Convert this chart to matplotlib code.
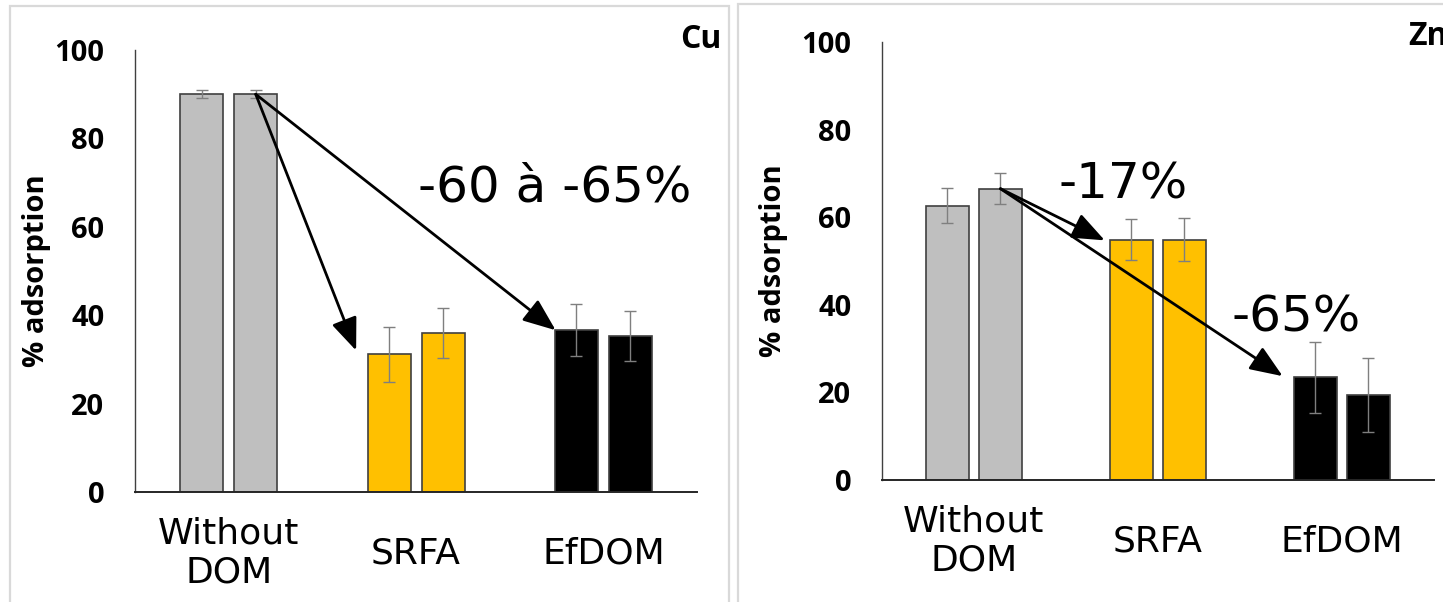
import matplotlib
matplotlib.use("Agg")
import matplotlib.pyplot as plt
from matplotlib.patches import Rectangle
import numpy as np

# Treatments on the x axis
categories = ["Without\nDOM", "SRFA", "EfDOM"]
bar_colors = ["#bfbfbf", "#ffc000", "#000000"]

# Cu adsorption (%), two replicates per treatment, with standard deviations
cu_rep1 = [90.0, 31.2, 36.6]
cu_rep2 = [90.0, 36.0, 35.3]
cu_err1 = [0.9, 6.2, 5.9]
cu_err2 = [0.9, 5.7, 5.7]

# Zn adsorption (%)
zn_rep1 = [62.6, 54.9, 23.5]
zn_rep2 = [66.5, 54.9, 19.4]
zn_err1 = [4.0, 4.6, 8.1]
zn_err2 = [3.6, 4.9, 8.5]

yticks = [0, 20, 40, 60, 80, 100]

BOLD_FONT = "Open Sans"

fig = plt.figure(figsize=(14.43, 6.02), dpi=100)

# Panel frames
fig.add_artist(Rectangle((0.0069, -0.02), 0.4983, 1.01, transform=fig.transFigure,
                         fill=False, edgecolor="#d9d9d9", lw=1.6))
fig.add_artist(Rectangle((0.5114, -0.02), 0.5, 1.0134, transform=fig.transFigure,
                         fill=False, edgecolor="#d9d9d9", lw=1.6))

ax_cu = fig.add_axes([0.0936, 0.1827, 0.3895, 0.7342])
ax_zn = fig.add_axes([0.6112, 0.2027, 0.3825, 0.7276])

off = 0.144
width = 0.23
x = np.arange(len(categories))


def draw_panel(ax, r1, r2, e1, e2, label_x):
    for xs, vals, errs in ((x - off, r1, e1), (x + off, r2, e2)):
        ax.bar(xs, vals, width=width, color=bar_colors, edgecolor="#404040",
               linewidth=1.2, zorder=2)
        ax.errorbar(xs, vals, yerr=errs, fmt="none", ecolor="#7f7f7f",
                    elinewidth=1.0, capsize=4, capthick=1.0, zorder=3)
    ax.set_xlim(-0.5, 2.5)
    ax.set_ylim(0, 100)
    ax.set_yticks(yticks)
    ax.set_yticklabels([str(t) for t in yticks], fontfamily=BOLD_FONT,
                       fontweight="bold", fontsize=21)
    ax.set_xticks(x)
    ax.set_xticklabels(categories, fontfamily="DejaVu Sans", fontsize=26)
    for lab in ax.get_xticklabels():
        lab.set_verticalalignment("center")
    ax.tick_params(axis="x", length=0, pad=44)
    ax.tick_params(axis="y", length=0, pad=22)
    for s in ("top", "right"):
        ax.spines[s].set_visible(False)
    ax.spines["left"].set_color("#404040")
    ax.spines["left"].set_linewidth(1.0)
    ax.spines["bottom"].set_color("#262626")
    ax.spines["bottom"].set_linewidth(1.4)
    ax.set_ylabel("% adsorption", fontfamily=BOLD_FONT, fontweight="bold",
                  fontsize=21, va="center")
    ax.yaxis.set_label_coords(label_x, 0.5)


draw_panel(ax_cu, cu_rep1, cu_rep2, cu_err1, cu_err2, -0.176)
draw_panel(ax_zn, zn_rep1, zn_rep2, zn_err1, zn_err2, -0.196)

arrow_kw = dict(arrowstyle="-|>,head_length=1.0,head_width=0.4", color="black",
                lw=2.0, shrinkA=0, shrinkB=0, mutation_scale=20)

# Cu: drop from the no-DOM level towards SRFA and EfDOM
start_cu = (x[0] + off, cu_rep2[0])
ax_cu.annotate("", xy=(0.68, 32.0), xytext=start_cu, arrowprops=arrow_kw, zorder=4)
ax_cu.annotate("", xy=(1.745, 36.6), xytext=start_cu, arrowprops=arrow_kw, zorder=4)
ax_cu.text(1.01, 65.7, "-60 à -65%", fontfamily="DejaVu Sans", fontsize=36,
           ha="left", va="baseline")

# Zn
start_zn = (x[0] + off, zn_rep2[0])
ax_zn.annotate("", xy=(0.711, 54.7), xytext=start_zn, arrowprops=arrow_kw, zorder=4)
ax_zn.annotate("", xy=(1.678, 23.7), xytext=start_zn, arrowprops=arrow_kw, zorder=4)
ax_zn.text(0.457, 64.2, "-17%", fontfamily="DejaVu Sans", fontsize=36,
           ha="left", va="baseline")
ax_zn.text(1.402, 34.0, "-65%", fontfamily="DejaVu Sans", fontsize=36,
           ha="left", va="baseline")

# Metal labels in the panel corners
fig.text(0.4997, 0.920, "Cu", fontfamily=BOLD_FONT, fontweight="bold", fontsize=23,
         ha="right", va="baseline")
fig.text(0.9757, 0.925, "Zn", fontfamily=BOLD_FONT, fontweight="bold", fontsize=23,
         ha="left", va="baseline")

fig.savefig("out.png", dpi=100)
